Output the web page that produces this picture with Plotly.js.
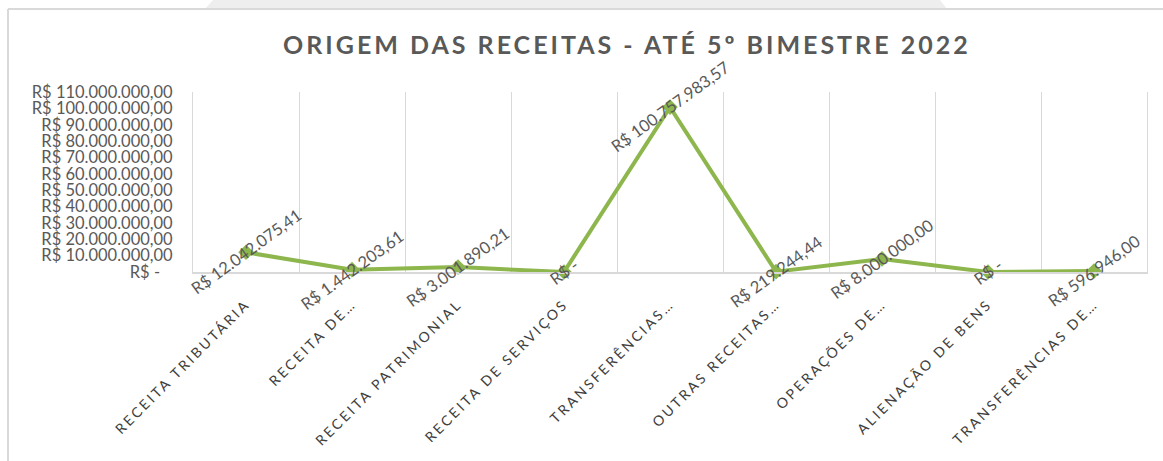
<!DOCTYPE html>
<html>
<head>
<meta charset="utf-8">
<script src="https://cdn.plot.ly/plotly-3.0.1.min.js"></script>
<style>
  html, body { margin: 0; padding: 0; background: #ffffff; }
  #chart { width: 1163px; height: 461px; }
  .gtitle { letter-spacing: 3px; }
  .xtick text { letter-spacing: 2.6px; }
</style>
</head>
<body>
<div id="chart"></div>
<script>
// ---- data ----
const categories = [
  "RECEITA TRIBUTÁRIA",
  "RECEITA DE…",
  "RECEITA PATRIMONIAL",
  "RECEITA DE SERVIÇOS",
  "TRANSFERÊNCIAS…",
  "OUTRAS RECEITAS…",
  "OPERAÇÕES DE…",
  "ALIENAÇÃO DE BENS",
  "TRANSFERÊNCIAS DE…"
];
const values = [12042075.41, 1442203.61, 3001890.21, 0, 100757983.57, 219244.44, 8000000.00, 0, 596946.00];
const yTickVals = [0, 10000000, 20000000, 30000000, 40000000, 50000000, 60000000, 70000000, 80000000, 90000000, 100000000, 110000000];
const yTickText = ["R$ -\u00a0\u00a0\u00a0", "R$ 10.000.000,00", "R$ 20.000.000,00", "R$ 30.000.000,00", "R$ 40.000.000,00",
  "R$ 50.000.000,00", "R$ 60.000.000,00", "R$ 70.000.000,00", "R$ 80.000.000,00", "R$ 90.000.000,00",
  "R$ 100.000.000,00", "R$ 110.000.000,00"];
const chartTitle = "ORIGEM DAS RECEITAS - ATÉ 5º BIMESTRE 2022";

function brl(v) {
  if (v === 0) return "R$ -";
  const parts = v.toFixed(2).split(".");
  const intPart = parts[0].replace(/\B(?=(\d{3})+(?!\d))/g, ".");
  return "R$ " + intPart + "," + parts[1];
}

const green = "#8db64d";
const grey = "#595959";
const FONT = "Lato, 'Open Sans', sans-serif";

const trace = {
  type: "scatter",
  mode: "lines+markers",
  x: categories,
  y: values,
  line: { color: green, width: 4 },
  marker: { symbol: "diamond", size: 12, color: green },
  hoverinfo: "skip",
  cliponaxis: false
};

const annotations = categories.map((c, i) => ({
  x: c, y: values[i], xref: "x", yref: "y",
  text: brl(values[i]),
  showarrow: false,
  textangle: -36,
  xanchor: "center", yanchor: "middle",
  font: { family: FONT, size: 16.5, color: grey }
}));

const W = 1163, H = 461, ML = 193, MR = 16, MT = 92, MB = 189;
const PW = W - ML - MR, PH = H - MT - MB;
const px = x => (x - ML) / PW;
const py = y => (H - MB - y) / PH;

const layout = {
  width: W, height: H,
  paper_bgcolor: "#ffffff",
  plot_bgcolor: "rgba(0,0,0,0)",
  margin: { l: ML, r: MR, t: MT, b: MB },
  showlegend: false,
  title: {
    text: chartTitle,
    font: { family: FONT, size: 25, color: grey, weight: "bold" },
    xref: "container", x: 0.539, xanchor: "center",
    yref: "container", y: 0.902, yanchor: "middle"
  },
  xaxis: {
    type: "category",
    range: [-0.5, 8.5],
    tickson: "boundaries",
    showgrid: true, gridcolor: "#d9d9d9", gridwidth: 1,
    showline: true, linecolor: "#d9d9d9", linewidth: 1.5,
    mirror: false,
    ticks: "",
    tickangle: -45,
    ticklabelstandoff: 17,
    tickfont: { family: FONT, size: 14, color: "#404040" },
    zeroline: false,
    fixedrange: true
  },
  yaxis: {
    range: [0, 110000000],
    tickvals: yTickVals,
    ticktext: yTickText,
    showgrid: false,
    zeroline: false,
    showline: true, linecolor: "#d9d9d9", linewidth: 1, mirror: true,
    ticks: "",
    ticklabelstandoff: 16,
    tickfont: { family: FONT, size: 16.5, color: grey },
    fixedrange: true
  },
  annotations: annotations,
  shapes: [
    { type: "path", xref: "paper", yref: "paper", layer: "below", line: { width: 0 }, fillcolor: "#eeeeee",
      path: "M " + px(213) + " " + py(0) + " L " + px(940) + " " + py(0) +
            " L " + px(947) + " " + py(9) + " L " + px(205) + " " + py(9) + " Z" },
    { type: "line", xref: "paper", yref: "paper", layer: "below", line: { color: "#d9d9d9", width: 2 },
      x0: px(8), x1: px(1163), y0: py(9), y1: py(9) },
    { type: "line", xref: "paper", yref: "paper", layer: "below", line: { color: "#d9d9d9", width: 2 },
      x0: px(8), x1: px(8), y0: py(9), y1: py(461) }
  ]
};

Plotly.newPlot("chart", [trace], layout, { displayModeBar: false, staticPlot: true });
</script>
</body>
</html>
